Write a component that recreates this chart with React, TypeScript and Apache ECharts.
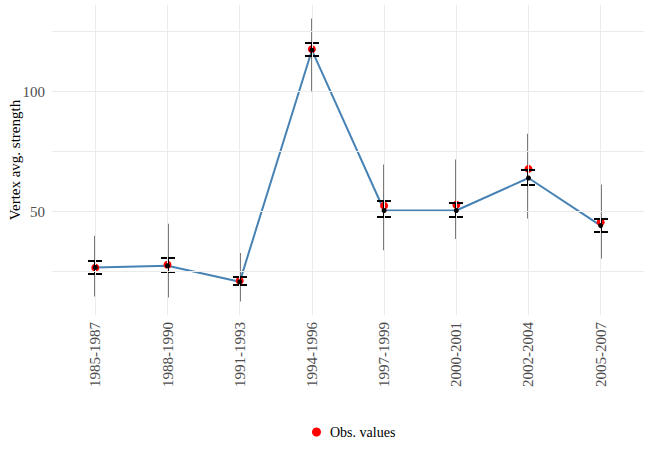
import React, { useEffect, useRef } from "react";
import * as echarts from "echarts";

const categories = ["1985-1987", "1988-1990", "1991-1993", "1994-1996", "1997-1999", "2000-2001", "2002-2004", "2005-2007"];
const obsValues = [26.7, 27.9, 21.3, 117.6, 52.5, 52.9, 67.8, 45.6];
const meanValues = [26.8, 27.5, 20.8, 117.2, 50.5, 50.5, 64.0, 44.2];
const ciLow = [24.2, 25.1, 19.3, 114.7, 47.6, 47.9, 61.0, 41.4];
const ciHigh = [29.3, 30.6, 23.0, 120.1, 54.3, 53.5, 67.5, 47.1];
const rangeLow = [14.7, 14.3, 12.6, 99.7, 33.9, 38.6, 47.2, 30.5];
const rangeHigh = [40.0, 45.0, 32.8, 130.4, 69.6, 71.7, 82.4, 61.3];
const yTickLabels = [50, 100];
const yGridValues = [25, 50, 75, 100, 125];

const FONT = "Liberation Serif";

export default function App() {
  const ref = useRef<HTMLDivElement>(null);
  useEffect(() => {
    if (!ref.current) return;
    const chart = echarts.init(ref.current, null, { renderer: "svg" });
    const idx = categories.map((_, i) => i);
    const gridLines = [
      ...yGridValues.map((v) => ({ yAxis: v })),
      ...idx.map((i) => ({ xAxis: i })),
    ];
    chart.setOption({
      animation: false,
      backgroundColor: "#ffffff",
      grid: { left: 52, right: 6, top: 5, bottom: 135, containLabel: false, outerBoundsMode: "none" },
      legend: {
        data: [{ name: "Obs. values", icon: "circle" }],
        top: 420,
        left: 307,
        itemWidth: 9,
        itemHeight: 9,
        textStyle: { fontFamily: FONT, fontSize: 14, color: "#000", padding: [0, 0, 0, 4] },
      },
      xAxis: {
        type: "value",
        min: -0.6,
        max: categories.length - 1 + 0.6,
        axisLine: { show: false },
        axisTick: { show: false },
        splitLine: { show: false },
        axisLabel: {
          customValues: idx,
          rotate: 90,
          margin: 7,
          fontFamily: FONT,
          fontSize: 15,
          color: "#4d4d4d",
          padding: [12, 0, 0, 0],
          formatter: (v: number) => categories[Math.round(v)] ?? "",
        },
      },
      yAxis: {
        type: "value",
        min: 7,
        max: 136,
        name: "Vertex avg. strength",
        nameLocation: "middle",
        nameGap: 30,
        nameMoveOverlap: false,
        nameTextStyle: { fontFamily: FONT, fontSize: 15, color: "#000" },
        axisLine: { show: false },
        axisTick: { show: true, customValues: yTickLabels, length: 4, lineStyle: { color: "#b3b3b3", width: 1 } },
        splitLine: { show: false },
        axisLabel: {
          customValues: yTickLabels,
          margin: 7,
          fontFamily: FONT,
          fontSize: 15,
          color: "#4d4d4d",
        },
      },
      series: [
        {
          type: "line",
          name: "grid",
          data: [],
          z: 0,
          silent: true,
          markLine: {
            silent: true,
            symbol: ["none", "none"],
            label: { show: false },
            emphasis: { disabled: true },
            lineStyle: { type: "solid", color: "#ebebeb", width: 1 },
            data: gridLines,
          },
        },
        {
          type: "custom",
          name: "range",
          z: 1,
          silent: true,
          data: idx.map((i) => [i, rangeLow[i], rangeHigh[i]]),
          encode: { x: 0, y: [1, 2] },
          renderItem: (_p: any, api: any) => {
            const x = api.value(0);
            const a = api.coord([x, api.value(1)]);
            const b = api.coord([x, api.value(2)]);
            const px = Math.round(a[0]);
            return {
              type: "line",
              shape: { x1: px, y1: a[1], x2: px, y2: b[1] },
              style: { stroke: "#7a7a7a", lineWidth: 2 },
            };
          },
        },
        {
          type: "line",
          name: "mean line",
          z: 2,
          silent: true,
          data: idx.map((i) => [i, meanValues[i]]),
          showSymbol: false,
          symbol: "none",
          lineStyle: { color: "#4682b4", width: 2 },
        },
        {
          type: "scatter",
          name: "Obs. values",
          z: 3,
          data: idx.map((i) => [i, obsValues[i]]),
          symbol: "circle",
          symbolSize: 8,
          itemStyle: { color: "#ff0000", opacity: 1 },
        },
        {
          type: "custom",
          name: "errorbar",
          z: 4,
          silent: true,
          data: idx.map((i) => [i, ciLow[i], ciHigh[i]]),
          encode: { x: 0, y: [1, 2] },
          renderItem: (_p: any, api: any) => {
            const x = api.value(0);
            const a = api.coord([x, api.value(1)]);
            const b = api.coord([x, api.value(2)]);
            const px = Math.round(a[0]);
            const ya = Math.round(a[1]);
            const yb = Math.round(b[1]);
            const hw = 7;
            const st = { stroke: "#000000", lineWidth: 2 };
            return {
              type: "group",
              children: [
                { type: "line", shape: { x1: px, y1: ya, x2: px, y2: yb }, style: st },
                { type: "line", shape: { x1: px - hw, y1: ya, x2: px + hw, y2: ya }, style: st },
                { type: "line", shape: { x1: px - hw, y1: yb, x2: px + hw, y2: yb }, style: st },
              ],
            };
          },
        },
        {
          type: "scatter",
          name: "mean",
          z: 5,
          silent: true,
          data: idx.map((i) => [i, meanValues[i]]),
          symbol: "circle",
          symbolSize: 5,
          itemStyle: { color: "#000000", opacity: 1 },
        },
      ],
    });
    return () => chart.dispose();
  }, []);
  return (
    <div
      ref={ref}
      style={{ position: "fixed", left: 0, top: 0, width: 650, height: 450, background: "#fff" }}
    />
  );
}
